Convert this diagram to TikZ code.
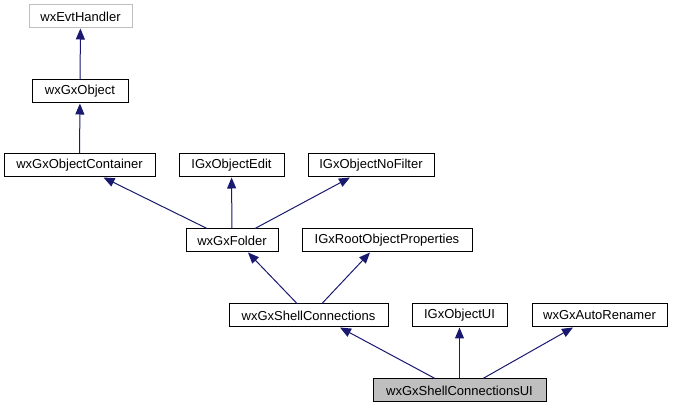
\documentclass[tikz,border=0pt]{standalone}
\usepackage{fontspec}
\setmainfont{Liberation Sans}
\usetikzlibrary{arrows.meta}
\definecolor{edgeblue}{HTML}{191970}
\definecolor{boxgray}{HTML}{BFBFBF}

\begin{document}
\begin{tikzpicture}[x=1pt, y=-1pt,
    cls/.style={draw=black, line width=1pt, fill=white, inner sep=0pt,
        minimum height=23pt, font=\fontsize{13}{15}\selectfont},
    ext/.style={cls, draw=boxgray},
    cur/.style={cls, fill=boxgray},
    inh/.style={draw=edgeblue, line width=1pt,
        -{Triangle[length=11pt, width=9pt, fill=edgeblue]}}]
        \useasboundingbox (0,0) rectangle (673,411);

        % Верхняя часть
        \node[ext, minimum width=103pt] (EH) at (80.5,16.5) {wxEvtHandler};
        \node[cls, minimum width=96pt] (GO) at (80,91.5) {wxGxObject};

        \node[cls, minimum width=151pt] (OC) at (79.5,165.5) {wxGxObjectContainer};
        \node[cls, minimum width=105pt] (OE) at (231.5,165.5) {IGxObjectEdit};
        \node[cls, minimum width=126pt] (NF) at (371,165.5) {IGxObjectNoFilter};

        \node[cls, minimum width=92pt] (GF) at (232,240.5) {wxGxFolder};
        \node[cls, minimum width=170pt] (RP) at (387,240.5) {IGxRootObjectProperties};

        % Нижняя часть
        \node[cls, minimum width=159pt] (SC) at (308.5,315.5) {wxGxShellConnections};
        \node[cls, minimum width=95pt] (UI) at (459.5,315.5) {IGxObjectUI};
        \node[cls, minimum width=135pt] (AR) at (599.5,315.5) {wxGxAutoRenamer};

        \node[cur, minimum width=173pt] (SU) at (459.5,390.5) {wxGxShellConnectionsUI};

        % Наследование
        \draw[inh] (GO) -- (EH);
        \draw[inh] (OC) -- (GO);

        \draw[inh] ([xshift=-25pt]GF.north) -- ([xshift=24pt]OC.south);
        \draw[inh] (GF) -- (OE);
        \draw[inh] ([xshift=23pt]GF.north) -- ([xshift=-21pt]NF.south);

        \draw[inh] ([xshift=-11.5pt]SC.north) -- ([xshift=16pt]GF.south);
        \draw[inh] ([xshift=13.5pt]SC.north) -- ([xshift=-17pt]RP.south);

        \draw[inh] ([xshift=-24.5pt]SU.north) -- ([xshift=31.5pt]SC.south);
        \draw[inh] (SU) -- (UI);
        \draw[inh] ([xshift=23.5pt]SU.north) -- ([xshift=-26.5pt]AR.south);
    \end{tikzpicture}
\end{document}
